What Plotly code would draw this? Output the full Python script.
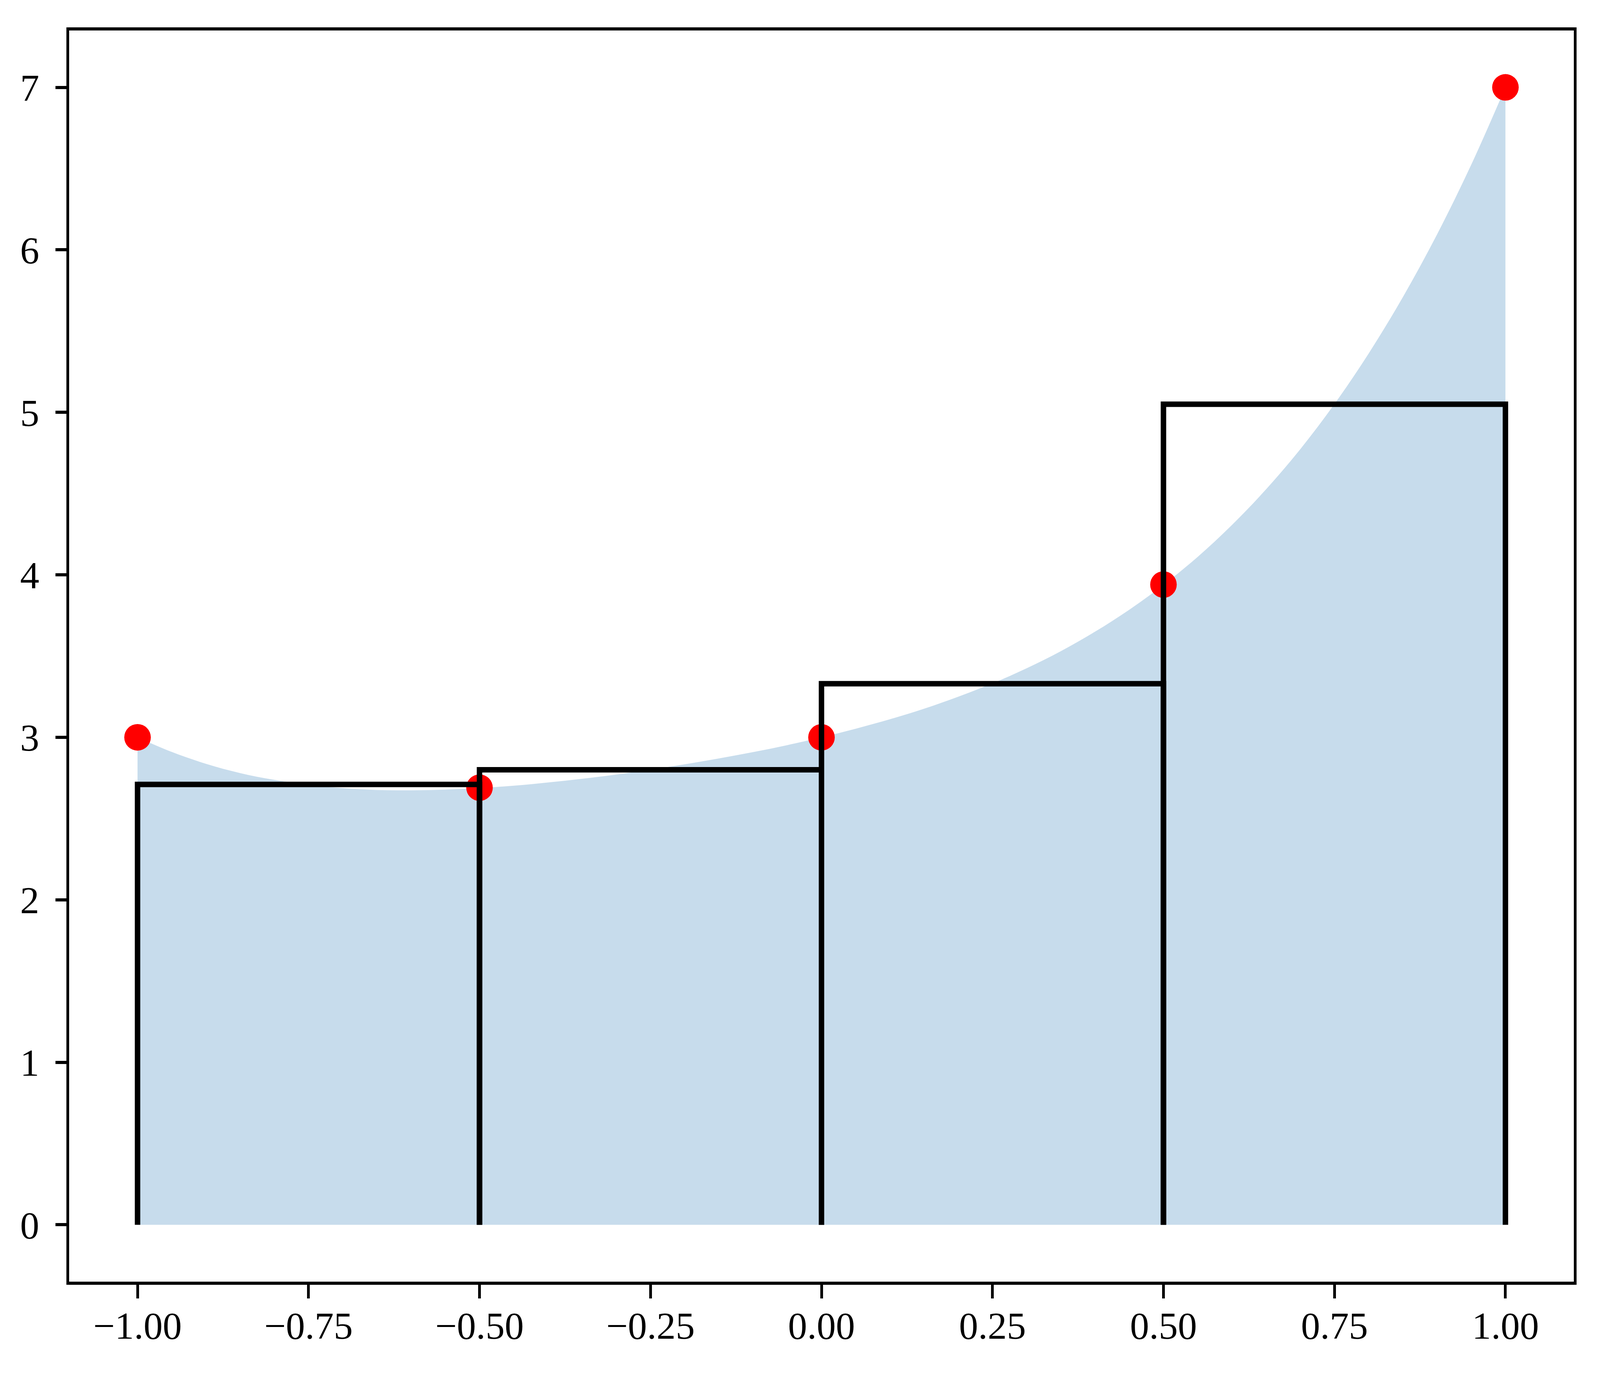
import plotly.graph_objects as go

# curve samples
curve_x = [-1.00, -0.95, -0.90, -0.85, -0.80, -0.75, -0.70, -0.65, -0.60, -0.55,
           -0.50, -0.45, -0.40, -0.35, -0.30, -0.25, -0.20, -0.15, -0.10, -0.05,
           0.00, 0.05, 0.10, 0.15, 0.20, 0.25, 0.30, 0.35, 0.40, 0.45,
           0.50, 0.55, 0.60, 0.65, 0.70, 0.75, 0.80, 0.85, 0.90, 0.95, 1.00]
curve_y = [3.000, 2.910, 2.837, 2.780, 2.738, 2.707, 2.687, 2.676, 2.674, 2.678,
           2.688, 2.702, 2.722, 2.745, 2.771, 2.801, 2.834, 2.870, 2.909, 2.952,
           3.000, 3.053, 3.111, 3.176, 3.250, 3.332, 3.425, 3.530, 3.650, 3.785,
           3.938, 4.110, 4.306, 4.526, 4.773, 5.051, 5.362, 5.709, 6.095, 6.524, 7.000]

# sample points (red dots)
node_x = [-1.0, -0.5, 0.0, 0.5, 1.0]
node_y = [3.00, 2.69, 3.00, 3.94, 7.00]

# rectangles (midpoint heights)
rect_left = [-1.0, -0.5, 0.0, 0.5]
rect_right = [-0.5, 0.0, 0.5, 1.0]
rect_height = [2.71, 2.80, 3.33, 5.05]

x_ticks = [-1.0, -0.75, -0.5, -0.25, 0.0, 0.25, 0.5, 0.75, 1.0]
x_tick_labels = ["\u22121.00", "\u22120.75", "\u22120.50", "\u22120.25", "0.00",
                 "0.25", "0.50", "0.75", "1.00"]
y_ticks = [0, 1, 2, 3, 4, 5, 6, 7]
y_tick_labels = ["0", "1", "2", "3", "4", "5", "6", "7"]

fig = go.Figure()

fig.add_trace(go.Scatter(
    x=curve_x, y=curve_y, mode="lines", line=dict(width=0, shape="spline"),
    fill="tozeroy", fillcolor="rgb(199,220,236)", hoverinfo="skip", showlegend=False))

fig.add_trace(go.Scatter(
    x=node_x, y=node_y, mode="markers",
    marker=dict(color="#ff0000", size=68, line=dict(width=0)), showlegend=False))

for a, b, h in zip(rect_left, rect_right, rect_height):
    fig.add_trace(go.Scatter(
        x=[a, a, b, b], y=[0, h, h, 0], mode="lines",
        line=dict(color="black", width=14), showlegend=False))

tick_font = dict(family="Liberation Serif", size=98, color="black")

fig.update_xaxes(
    range=[-1.1, 1.1], tickvals=x_ticks, ticktext=x_tick_labels,
    showline=True, linecolor="black", linewidth=8, mirror=True,
    ticks="outside", ticklen=35, tickwidth=7, tickcolor="black",
    showgrid=False, zeroline=False, tickfont=tick_font, ticklabelstandoff=-15)
fig.update_yaxes(
    range=[-0.35, 7.35], tickvals=y_ticks, ticktext=y_tick_labels,
    showline=True, linecolor="black", linewidth=7, mirror=True,
    ticks="outside", ticklen=28, tickwidth=8, tickcolor="black",
    showgrid=False, zeroline=False, tickfont=tick_font, ticklabelstandoff=22)

fig.update_layout(
    width=4096, height=3524,
    margin=dict(l=177, r=67, t=78, b=244),
    paper_bgcolor="white", plot_bgcolor="white",
)

fig.write_html("out.html", config={"displayModeBar": False},
               post_script="document.body.style.margin='0';")
